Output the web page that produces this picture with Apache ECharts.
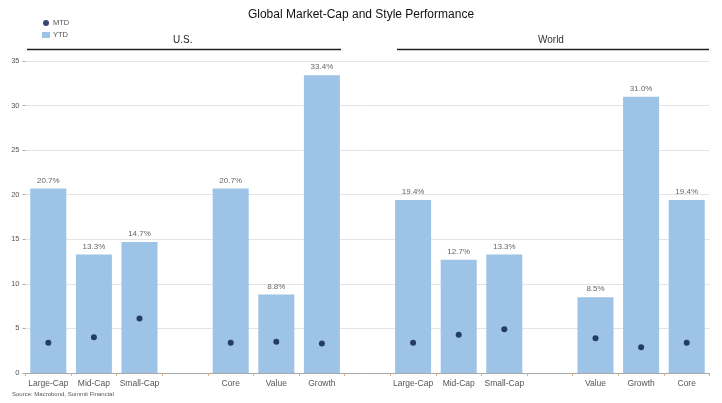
<!DOCTYPE html>
<html>
<head>
<meta charset="utf-8">
<title>Global Market-Cap and Style Performance</title>
<script src="https://cdn.jsdelivr.net/npm/echarts@6/dist/echarts.min.js"></script>
<style>
  html, body { margin: 0; padding: 0; background: #fff; }
  #chart { width: 722px; height: 403px; }
</style>
</head>
<body>
<div id="chart"></div>
<script>
// Category slots: U.S. size, gap, U.S. style, gap, World size, gap, World style
const categories = [
  'Large-Cap', 'Mid-Cap', 'Small-Cap', '',
  'Core', 'Value', 'Growth', '',
  'Large-Cap', 'Mid-Cap', 'Small-Cap', '',
  'Value', 'Growth', 'Core'
];

// Year-to-date total return, %
const ytd = [20.7, 13.3, 14.7, null, 20.7, 8.8, 33.4, null, 19.4, 12.7, 13.3, null, 8.5, 31.0, 19.4];

// Month-to-date total return, %
const mtd = [3.4, 4.0, 6.1, null, 3.4, 3.5, 3.3, null, 3.4, 4.3, 4.9, null, 3.9, 2.9, 3.4];

const yTicks = [0, 5, 10, 15, 20, 25, 30, 35];

const FONT = '"Liberation Sans", Arial, sans-serif';
const BAR = '#9dc3e7';
const DOT = '#061a4a';

const chart = echarts.init(document.getElementById('chart'), null, { renderer: 'canvas' });

chart.setOption({
  animation: false,
  backgroundColor: '#ffffff',
  textStyle: { fontFamily: FONT },
  title: {
    text: 'Global Market-Cap and Style Performance',
    left: 'center',
    top: 4,
    textStyle: { fontFamily: FONT, fontSize: 12, fontWeight: 'normal', color: '#111' }
  },
  legend: {
    orient: 'vertical',
    left: 37,
    top: 14,
    itemGap: 4,
    itemWidth: 8,
    itemHeight: 6,
    textStyle: { fontFamily: FONT, fontSize: 7.5, color: '#555', padding: [0, 0, 0, -2] },
    data: [
      { name: 'MTD', icon: 'circle' },
      { name: 'YTD', icon: 'rect' }
    ]
  },
  grid: { left: 25.5, right: 12.5, top: 61, bottom: 30, containLabel: false },
  xAxis: {
    type: 'category',
    data: categories,
    boundaryGap: true,
    axisLine: { show: true, lineStyle: { color: '#a8a8a8', width: 1 } },
    axisTick: { show: true, interval: 0, length: 3, lineStyle: { color: '#cfb48c' } },
    axisLabel: { interval: 0, fontFamily: FONT, fontSize: 8.5, color: '#555', margin: 6 },
    splitLine: { show: false }
  },
  yAxis: {
    type: 'value',
    min: yTicks[0],
    max: yTicks[yTicks.length - 1],
    interval: 5,
    axisLine: { show: false },
    axisTick: { show: true, length: 3, lineStyle: { color: '#aaa' } },
    axisLabel: { fontFamily: FONT, fontSize: 7.5, color: '#555', margin: 6 },
    splitLine: { show: true, lineStyle: { color: '#e4e4e4', width: 1 } }
  },
  series: [
    {
      name: 'YTD',
      type: 'bar',
      data: ytd,
      barCategoryGap: '21%',
      itemStyle: { color: BAR },
      label: {
        show: true,
        position: 'top',
        distance: 4,
        fontFamily: FONT,
        fontSize: 8,
        color: '#666',
        formatter: p => p.value == null ? '' : p.value.toFixed(1) + '%'
      },
      z: 2
    },
    {
      name: 'MTD',
      type: 'scatter',
      data: mtd,
      symbol: 'circle',
      symbolSize: 6,
      itemStyle: { color: DOT },
      z: 3
    }
  ],
  graphic: [
    // region headers with underlines
    {
      type: 'text', left: 173, top: 35,
      style: { text: 'U.S.', font: '10px ' + FONT, fill: '#222' }
    },
    {
      type: 'line', shape: { x1: 27, y1: 49.5, x2: 341, y2: 49.5 },
      style: { stroke: '#222', lineWidth: 1.6 }
    },
    {
      type: 'text', left: 538, top: 35,
      style: { text: 'World', font: '10px ' + FONT, fill: '#333' }
    },
    {
      type: 'line', shape: { x1: 397, y1: 49.5, x2: 709, y2: 49.5 },
      style: { stroke: '#222', lineWidth: 1.6 }
    },
    {
      type: 'text', left: 12, top: 391,
      style: { text: 'Source: Macrobond, Summit Financial', font: '6px ' + FONT, fill: '#555' }
    }
  ]
});
</script>
</body>
</html>
